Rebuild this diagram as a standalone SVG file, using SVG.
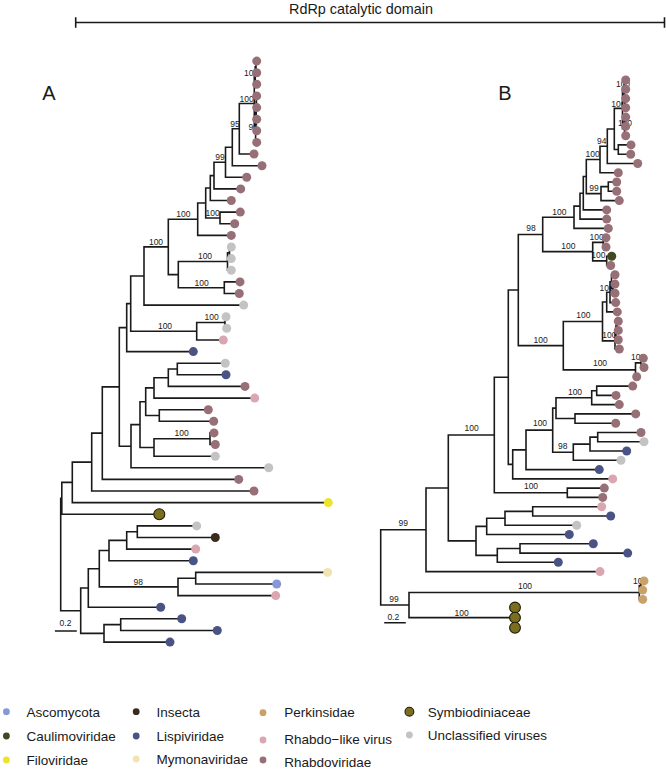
<svg xmlns="http://www.w3.org/2000/svg" width="666" height="769" viewBox="0 0 666 769">
<style>
.br{fill:none;stroke:#1a1a1a;stroke-width:1.6;stroke-linecap:square}
.lb{font-family:"Liberation Sans",Arial,sans-serif;font-size:8.5px;fill:#1a1a1a;text-anchor:middle}
.lg{font-family:"Liberation Sans",Arial,sans-serif;font-size:13.5px;fill:#1a1a1a}
.tt{font-family:"Liberation Sans",Arial,sans-serif;font-size:14.4px;fill:#1a1a1a;text-anchor:middle}
.pl{font-family:"Liberation Sans",Arial,sans-serif;font-size:20px;fill:#1a1a1a}
.rh{fill:#976f77}.gr{fill:#c3c3c3}.pk{fill:#d9a6b2}.li{fill:#4a5386}.as{fill:#8797d8}
.in{fill:#3a2b1c}.ca{fill:#3f4a22}.fi{fill:#ece32b}.my{fill:#f1e3b3}.pe{fill:#c8a26a}
.sy{fill:#7c6e1f;stroke:#1e1e0a;stroke-width:1.1}
</style>
<rect width="666" height="769" fill="#ffffff"/>
<g id="title">
<text class="tt" x="361" y="14">RdRp catalytic domain</text>
<path class="br" d="M75.7 22.5H664.5M75.7 18V27M664.5 18V27" stroke-linecap="butt"/>
</g>
<text class="pl" x="42.3" y="100">A</text>
<text class="pl" x="498.3" y="100">B</text>
<g id="connectors">
<path id="treeA-branches" class="br" d="M256 61.1V72.7M256 61.1H256.7M256 72.7H256.7M255.2 66.9V84.3M255.2 66.9H256M255.2 84.3H256.7M256.4 95.9V107.6M256.4 95.9H256.7M256.4 107.6H256.7M256.2 101.75V119.2M256.2 101.75H256.4M256.2 119.2H256.7M255.9 110.5V130.8M255.9 110.5H256.2M255.9 130.8H256.7M255.6 120.65V142.4M255.6 120.65H255.9M255.6 142.4H256.7M254.3 75.6V131.5M254.3 75.6H255.2M254.3 131.5H255.6M239.3 103.55V154M239.3 103.55H254.3M239.3 154H254M232.3 128.8V165.7M232.3 128.8H239.3M232.3 165.7H262M225.5 147.25V177.3M225.5 147.25H232.3M225.5 177.3H246.7M214 162.3V188.9M214 162.3H225.5M214 188.9H240.7M210.3 175.6V200.5M210.3 175.6H214M210.3 200.5H231.3M220 212.1V223.8M220 212.1H240.3M220 223.8H234.7M205.7 188.05V217.95M205.7 188.05H210.3M205.7 217.95H220M197.7 203V235.4M197.7 203H205.7M197.7 235.4H231.3M229.5 247V258.6M229.5 247H231.3M229.5 258.6H231.3M227.5 252.8V270.2M227.5 252.8H229.5M227.5 270.2H231.3M224.3 281.9V293.5M224.3 281.9H240M224.3 293.5H239.3M178.3 261.5V287.7M178.3 261.5H227.5M178.3 287.7H224.3M168.3 219.2V274.6M168.3 219.2H197.7M168.3 274.6H178.3M144 246.9V305.1M144 246.9H168.3M144 305.1H243.7M225 316.7V328.3M225 316.7H226M225 328.3H226.7M196.7 322.5V340M196.7 322.5H225M196.7 340H223.3M130.7 276V331.25M130.7 276H144M130.7 331.25H196.7M126.7 303.6V351.6M126.7 303.6H130.7M126.7 351.6H193.3M177.3 363.2V374.8M177.3 363.2H225.3M177.3 374.8H226M168.3 369V386.4M168.3 369H177.3M168.3 386.4H245M154 377.7V398.1M154 377.7H168.3M154 398.1H254.7M159.3 409.7V421.3M159.3 409.7H208.3M159.3 421.3H213.7M145.7 387.9V415.5M145.7 387.9H154M145.7 415.5H159.3M210 432.9V444.5M210 432.9H214M210 444.5H215.3M154 438.7V456.2M154 438.7H210M154 456.2H215.3M140 401.7V447.45M140 401.7H145.7M140 447.45H154M131 424.6V467.8M131 424.6H140M131 467.8H268.7M119.3 327.6V446.2M119.3 327.6H126.7M119.3 446.2H131M102.3 386.9V479.4M102.3 386.9H119.3M102.3 479.4H238.7M91.7 433.15V491M91.7 433.15H102.3M91.7 491H254M72.3 462.1V502.6M72.3 462.1H91.7M72.3 502.6H328.3M61.8 482.35V514.3M61.8 482.35H72.3M61.8 514.3H159.3M137.3 525.9V537.5M137.3 525.9H196.7M137.3 537.5H215.3M126.7 531.7V549.1M126.7 531.7H137.3M126.7 549.1H195.7M109 540.4V560.7M109 540.4H126.7M109 560.7H193.3M195.7 572.4V584M195.7 572.4H327.7M195.7 584H276.7M178 578.2V595.6M178 578.2H195.7M178 595.6H275.7M99.3 550.55V586.9M99.3 550.55H109M99.3 586.9H178M88.3 568.7V607.2M88.3 568.7H99.3M88.3 607.2H160.7M120.7 618.8V630.5M120.7 618.8H181.7M120.7 630.5H217.3M104 624.65V642.1M104 624.65H120.7M104 642.1H170M80.7 587.95V633.4M80.7 587.95H88.3M80.7 633.4H104M60.7 498.3V610.7M60.7 498.3H61.8M60.7 610.7H80.7"/>
<path id="treeB-branches" class="br" d="M625 98.6V107.8M625 98.6H625.7M625 107.8H625.7M624.5 89.3V103.2M624.5 89.3H625.7M624.5 103.2H625M624 80V96.25M624 80H625.7M624 96.25H624.5M625 117.1V126.4M625 117.1H625.7M625 126.4H625.7M624.5 121.75V135.7M624.5 121.75H625M624.5 135.7H625.7M622.5 88.1V128.7M622.5 88.1H624M622.5 128.7H624.5M618.3 144.9V154.2M618.3 144.9H631M618.3 154.2H630.7M614.3 108.4V149.55M614.3 108.4H622.5M614.3 149.55H618.3M607.3 128.98V163.5M607.3 128.98H614.3M607.3 163.5H637.7M600 146.24V172.8M600 146.24H607.3M600 172.8H618.3M608.3 182V191.3M608.3 182H616.7M608.3 191.3H616.7M601 186.65V200.6M601 186.65H608.3M601 200.6H619.3M586.3 159.52V193.63M586.3 159.52H600M586.3 193.63H601M583.3 176.57V209.9M583.3 176.57H586.3M583.3 209.9H606.7M580 193.24V219.1M580 193.24H583.3M580 219.1H606.7M574 206.17V228.4M574 206.17H580M574 228.4H608.3M603.3 237.7V247M603.3 237.7H606M603.3 247H606M606.7 256.2V265.5M606.7 256.2H611.7M606.7 265.5H610.7M592.7 242.35V260.85M592.7 242.35H603.3M592.7 260.85H606.7M542.7 217.28V251.6M542.7 217.28H574M542.7 251.6H592.7M613 284.1V293.3M613 284.1H615M613 293.3H615M611.5 274.8V288.7M611.5 274.8H615M611.5 288.7H613M610 281.75V302.6M610 281.75H611.5M610 302.6H615.7M606.7 292.18V311.9M606.7 292.18H610M606.7 311.9H617.3M617 321.2V330.4M617 321.2H618.3M617 330.4H618.3M616 325.8V339.7M616 325.8H617M616 339.7H618.3M615 332.75V349M615 332.75H616M615 349H619.3M602.5 302.04V340.88M602.5 302.04H606.7M602.5 340.88H615M641 358.3V367.5M641 358.3H643.3M641 367.5H644M635.5 362.9V376.8M635.5 362.9H641M635.5 376.8H636.7M563.3 321.46V369.85M563.3 321.46H602.5M563.3 369.85H635.5M518.3 234.44V345.66M518.3 234.44H542.7M518.3 345.66H563.3M596.7 386.1V395.4M596.7 386.1H632.7M596.7 395.4H616M591.7 390.75V404.6M591.7 390.75H596.7M591.7 404.6H619.3M575 413.9V423.2M575 413.9H635.7M575 423.2H615.7M556 397.68V418.55M556 397.68H591.7M556 418.55H575M597.7 432.5V441.8M597.7 432.5H641M597.7 441.8H644M590 437.15V451M590 437.15H597.7M590 451H626.7M573.3 444.08V460.3M573.3 444.08H590M573.3 460.3H621M552.7 408.1V452.19M552.7 408.1H556M552.7 452.19H573.3M526 430.15V469.6M526 430.15H552.7M526 469.6H599.3M512.7 449.87V478.9M512.7 449.87H526M512.7 478.9H612.7M508.3 290.05V464.39M508.3 290.05H518.3M508.3 464.39H512.7M567.3 488.1V497.4M567.3 488.1H604.3M567.3 497.4H602.7M494.3 377.22V492.75M494.3 377.22H508.3M494.3 492.75H567.3M532.7 506.7V516M532.7 506.7H601.7M532.7 516H610.7M505 511.35V525.2M505 511.35H532.7M505 525.2H576.7M486.7 518.28V534.5M486.7 518.28H505M486.7 534.5H569.3M520 543.8V553.1M520 543.8H593.3M520 553.1H627.7M497.3 548.45V562.3M497.3 548.45H520M497.3 562.3H558.3M476 526.39V555.38M476 526.39H486.7M476 555.38H497.3M448.3 434.99V540.88M448.3 434.99H494.3M448.3 540.88H476M426 487.94V571.6M426 487.94H448.3M426 571.6H600M641 580.9V590.1M641 580.9H644M641 590.1H642.7M639.3 585.5V599.4M639.3 585.5H641M639.3 599.4H642.7M513 607.5V627.7M513 607.5H515M513 627.7H515M409 592.45V617.6M409 592.45H639.3M409 617.6H513M380.7 529.77V605M380.7 529.77H426M380.7 605H409"/>
<path id="scalebars" class="br" stroke-linecap="butt" d="M55.7 631H76M385 622.7H405"/>
</g>
<g id="support-labels">
<text class="lb" x="251" y="75.5">100</text>
<text class="lb" x="246.7" y="102">100</text>
<text class="lb" x="235" y="127.3">95</text>
<text class="lb" x="253.3" y="130">96</text>
<text class="lb" x="220" y="160">99</text>
<text class="lb" x="212.7" y="215.7">100</text>
<text class="lb" x="183.3" y="217">100</text>
<text class="lb" x="156" y="244.7">100</text>
<text class="lb" x="205" y="259">100</text>
<text class="lb" x="201.7" y="285.7">100</text>
<text class="lb" x="211.7" y="320.3">100</text>
<text class="lb" x="165" y="328.7">100</text>
<text class="lb" x="181.7" y="435.7">100</text>
<text class="lb" x="138.3" y="584.7">98</text>
<text class="lb" x="65.5" y="625.7">0.2</text>
<text class="lb" x="623" y="86.5">100</text>
<text class="lb" x="618.3" y="106.8">100</text>
<text class="lb" x="625" y="125.5">100</text>
<text class="lb" x="601.7" y="144">94</text>
<text class="lb" x="592.7" y="157">100</text>
<text class="lb" x="594" y="190.7">99</text>
<text class="lb" x="559.3" y="214.7">100</text>
<text class="lb" x="531" y="231.3">98</text>
<text class="lb" x="596.7" y="239.7">100</text>
<text class="lb" x="568.3" y="248.7">100</text>
<text class="lb" x="598.3" y="258">100</text>
<text class="lb" x="606.7" y="290.6">100</text>
<text class="lb" x="583.3" y="318">100</text>
<text class="lb" x="609.3" y="338">100</text>
<text class="lb" x="540.7" y="343">100</text>
<text class="lb" x="638" y="359.5">100</text>
<text class="lb" x="600" y="366.3">100</text>
<text class="lb" x="575" y="394.7">100</text>
<text class="lb" x="540" y="426.3">100</text>
<text class="lb" x="471.7" y="431.3">100</text>
<text class="lb" x="562.7" y="449">98</text>
<text class="lb" x="531" y="489">100</text>
<text class="lb" x="403.3" y="526.3">99</text>
<text class="lb" x="640" y="584">100</text>
<text class="lb" x="525" y="588.7">100</text>
<text class="lb" x="394" y="602.3">99</text>
<text class="lb" x="461.7" y="616">100</text>
<text class="lb" x="393.3" y="619.7">0.2</text>
</g>
<g id="treeA-tips">
<g id="A0"><circle class="rh" cx="256.7" cy="61.1" r="4.5"/></g>
<g id="A1"><circle class="rh" cx="256.7" cy="72.7" r="4.5"/></g>
<g id="A2"><circle class="rh" cx="256.7" cy="84.3" r="4.5"/></g>
<g id="A3"><circle class="rh" cx="256.7" cy="95.9" r="4.5"/></g>
<g id="A4"><circle class="rh" cx="256.7" cy="107.6" r="4.5"/></g>
<g id="A5"><circle class="rh" cx="256.7" cy="119.2" r="4.5"/></g>
<g id="A6"><circle class="rh" cx="256.7" cy="130.8" r="4.5"/></g>
<g id="A7"><circle class="rh" cx="256.7" cy="142.4" r="4.5"/></g>
<g id="A8"><circle class="rh" cx="254" cy="154" r="4.5"/></g>
<g id="A9"><circle class="rh" cx="262" cy="165.7" r="4.5"/></g>
<g id="A10"><circle class="rh" cx="246.7" cy="177.3" r="4.5"/></g>
<g id="A11"><circle class="rh" cx="240.7" cy="188.9" r="4.5"/></g>
<g id="A12"><circle class="rh" cx="231.3" cy="200.5" r="4.5"/></g>
<g id="A13"><circle class="rh" cx="240.3" cy="212.1" r="4.5"/></g>
<g id="A14"><circle class="rh" cx="234.7" cy="223.8" r="4.5"/></g>
<g id="A15"><circle class="rh" cx="231.3" cy="235.4" r="4.5"/></g>
<g id="A16"><circle class="gr" cx="231.3" cy="247" r="4.5"/></g>
<g id="A17"><circle class="gr" cx="231.3" cy="258.6" r="4.5"/></g>
<g id="A18"><circle class="gr" cx="231.3" cy="270.2" r="4.5"/></g>
<g id="A19"><circle class="rh" cx="240" cy="281.9" r="4.5"/></g>
<g id="A20"><circle class="rh" cx="239.3" cy="293.5" r="4.5"/></g>
<g id="A21"><circle class="gr" cx="243.7" cy="305.1" r="4.5"/></g>
<g id="A22"><circle class="gr" cx="226" cy="316.7" r="4.5"/></g>
<g id="A23"><circle class="gr" cx="226.7" cy="328.3" r="4.5"/></g>
<g id="A24"><circle class="pk" cx="223.3" cy="340" r="4.5"/></g>
<g id="A25"><circle class="li" cx="193.3" cy="351.6" r="4.5"/></g>
<g id="A26"><circle class="gr" cx="225.3" cy="363.2" r="4.5"/></g>
<g id="A27"><circle class="li" cx="226" cy="374.8" r="4.5"/></g>
<g id="A28"><circle class="rh" cx="245" cy="386.4" r="4.5"/></g>
<g id="A29"><circle class="pk" cx="254.7" cy="398.1" r="4.5"/></g>
<g id="A30"><circle class="rh" cx="208.3" cy="409.7" r="4.5"/></g>
<g id="A31"><circle class="rh" cx="213.7" cy="421.3" r="4.5"/></g>
<g id="A32"><circle class="rh" cx="214" cy="432.9" r="4.5"/></g>
<g id="A33"><circle class="rh" cx="215.3" cy="444.5" r="4.5"/></g>
<g id="A34"><circle class="gr" cx="215.3" cy="456.2" r="4.5"/></g>
<g id="A35"><circle class="gr" cx="268.7" cy="467.8" r="4.5"/></g>
<g id="A36"><circle class="rh" cx="238.7" cy="479.4" r="4.5"/></g>
<g id="A37"><circle class="rh" cx="254" cy="491" r="4.5"/></g>
<g id="A38"><circle class="fi" cx="328.3" cy="502.6" r="4.5"/></g>
<g id="A39"><circle class="sy" cx="159.3" cy="514.3" r="5.5"/></g>
<g id="A40"><circle class="gr" cx="196.7" cy="525.9" r="4.5"/></g>
<g id="A41"><circle class="in" cx="215.3" cy="537.5" r="4.5"/></g>
<g id="A42"><circle class="pk" cx="195.7" cy="549.1" r="4.5"/></g>
<g id="A43"><circle class="li" cx="193.3" cy="560.7" r="4.5"/></g>
<g id="A44"><circle class="my" cx="327.7" cy="572.4" r="4.5"/></g>
<g id="A45"><circle class="as" cx="276.7" cy="584" r="4.5"/></g>
<g id="A46"><circle class="pk" cx="275.7" cy="595.6" r="4.5"/></g>
<g id="A47"><circle class="li" cx="160.7" cy="607.2" r="4.5"/></g>
<g id="A48"><circle class="li" cx="181.7" cy="618.8" r="4.5"/></g>
<g id="A49"><circle class="li" cx="217.3" cy="630.5" r="4.5"/></g>
<g id="A50"><circle class="li" cx="170" cy="642.1" r="4.5"/></g>
</g>
<g id="treeB-tips">
<g id="B1"><circle class="rh" cx="625.7" cy="80" r="4.5"/></g>
<g id="B2"><circle class="rh" cx="625.7" cy="89.3" r="4.5"/></g>
<g id="B3"><circle class="rh" cx="625.7" cy="98.6" r="4.5"/></g>
<g id="B4"><circle class="rh" cx="625.7" cy="107.8" r="4.5"/></g>
<g id="B5"><circle class="rh" cx="625.7" cy="117.1" r="4.5"/></g>
<g id="B6"><circle class="rh" cx="625.7" cy="126.4" r="4.5"/></g>
<g id="B7"><circle class="rh" cx="625.7" cy="135.7" r="4.5"/></g>
<g id="B8"><circle class="rh" cx="631" cy="144.9" r="4.5"/></g>
<g id="B9"><circle class="rh" cx="630.7" cy="154.2" r="4.5"/></g>
<g id="B10"><circle class="rh" cx="637.7" cy="163.5" r="4.5"/></g>
<g id="B11"><circle class="rh" cx="618.3" cy="172.8" r="4.5"/></g>
<g id="B12"><circle class="rh" cx="616.7" cy="182" r="4.5"/></g>
<g id="B13"><circle class="rh" cx="616.7" cy="191.3" r="4.5"/></g>
<g id="B14"><circle class="rh" cx="619.3" cy="200.6" r="4.5"/></g>
<g id="B15"><circle class="rh" cx="606.7" cy="209.9" r="4.5"/></g>
<g id="B16"><circle class="rh" cx="606.7" cy="219.1" r="4.5"/></g>
<g id="B17"><circle class="rh" cx="608.3" cy="228.4" r="4.5"/></g>
<g id="B18"><circle class="rh" cx="606" cy="237.7" r="4.5"/></g>
<g id="B19"><circle class="rh" cx="606" cy="247" r="4.5"/></g>
<g id="B20"><circle class="ca" cx="611.7" cy="256.2" r="4.5"/></g>
<g id="B21"><circle class="rh" cx="610.7" cy="265.5" r="4.5"/></g>
<g id="B22"><circle class="rh" cx="615" cy="274.8" r="4.5"/></g>
<g id="B23"><circle class="rh" cx="615" cy="284.1" r="4.5"/></g>
<g id="B24"><circle class="rh" cx="615" cy="293.3" r="4.5"/></g>
<g id="B25"><circle class="rh" cx="615.7" cy="302.6" r="4.5"/></g>
<g id="B26"><circle class="rh" cx="617.3" cy="311.9" r="4.5"/></g>
<g id="B27"><circle class="rh" cx="618.3" cy="321.2" r="4.5"/></g>
<g id="B28"><circle class="rh" cx="618.3" cy="330.4" r="4.5"/></g>
<g id="B29"><circle class="rh" cx="618.3" cy="339.7" r="4.5"/></g>
<g id="B30"><circle class="rh" cx="619.3" cy="349" r="4.5"/></g>
<g id="B31"><circle class="rh" cx="643.3" cy="358.3" r="4.5"/></g>
<g id="B32"><circle class="rh" cx="644" cy="367.5" r="4.5"/></g>
<g id="B33"><circle class="rh" cx="636.7" cy="376.8" r="4.5"/></g>
<g id="B34"><circle class="rh" cx="632.7" cy="386.1" r="4.5"/></g>
<g id="B35"><circle class="rh" cx="616" cy="395.4" r="4.5"/></g>
<g id="B36"><circle class="rh" cx="619.3" cy="404.6" r="4.5"/></g>
<g id="B37"><circle class="rh" cx="635.7" cy="413.9" r="4.5"/></g>
<g id="B38"><circle class="rh" cx="615.7" cy="423.2" r="4.5"/></g>
<g id="B39"><circle class="rh" cx="641" cy="432.5" r="4.5"/></g>
<g id="B40"><circle class="gr" cx="644" cy="441.8" r="4.5"/></g>
<g id="B41"><circle class="li" cx="626.7" cy="451" r="4.5"/></g>
<g id="B42"><circle class="gr" cx="621" cy="460.3" r="4.5"/></g>
<g id="B43"><circle class="li" cx="599.3" cy="469.6" r="4.5"/></g>
<g id="B44"><circle class="pk" cx="612.7" cy="478.9" r="4.5"/></g>
<g id="B45"><circle class="rh" cx="604.3" cy="488.1" r="4.5"/></g>
<g id="B46"><circle class="rh" cx="602.7" cy="497.4" r="4.5"/></g>
<g id="B47"><circle class="pk" cx="601.7" cy="506.7" r="4.5"/></g>
<g id="B48"><circle class="li" cx="610.7" cy="516" r="4.5"/></g>
<g id="B49"><circle class="gr" cx="576.7" cy="525.2" r="4.5"/></g>
<g id="B50"><circle class="li" cx="569.3" cy="534.5" r="4.5"/></g>
<g id="B51"><circle class="li" cx="593.3" cy="543.8" r="4.5"/></g>
<g id="B52"><circle class="li" cx="627.7" cy="553.1" r="4.5"/></g>
<g id="B53"><circle class="li" cx="558.3" cy="562.3" r="4.5"/></g>
<g id="B54"><circle class="pk" cx="600" cy="571.6" r="4.5"/></g>
<g id="B55"><circle class="pe" cx="644" cy="580.9" r="4.5"/></g>
<g id="B56"><circle class="pe" cx="642.7" cy="590.1" r="4.5"/></g>
<g id="B57"><circle class="pe" cx="642.7" cy="599.4" r="4.5"/></g>
<g id="B58"><circle class="sy" cx="515" cy="607.5" r="5.4"/></g>
<g id="B59"><circle class="sy" cx="515" cy="617.6" r="5.4"/></g>
<g id="B60"><circle class="sy" cx="515" cy="627.7" r="5.4"/></g>
</g>
<g id="legend">
<g id="lg-ascomycota"><circle class="as" cx="6.4" cy="711.7" r="3.4"/><text class="lg" x="26.4" y="716.6">Ascomycota</text></g>
<g id="lg-caulimoviridae"><circle class="ca" cx="6.4" cy="736" r="3.4"/><text class="lg" x="26.4" y="741">Caulimoviridae</text></g>
<g id="lg-filoviridae"><circle class="fi" cx="6.4" cy="760" r="3.4"/><text class="lg" x="26.4" y="765">Filoviridae</text></g>
<g id="lg-insecta"><circle class="in" cx="136.2" cy="711.7" r="3.4"/><text class="lg" x="156.6" y="716.6">Insecta</text></g>
<g id="lg-lispiviridae"><circle class="li" cx="136.2" cy="736" r="3.4"/><text class="lg" x="156.6" y="741">Lispiviridae</text></g>
<g id="lg-mymonaviridae"><circle class="my" cx="136.2" cy="759" r="3.4"/><text class="lg" x="156.6" y="764">Mymonaviridae</text></g>
<g id="lg-perkinsidae"><circle class="pe" cx="263" cy="712.7" r="3.4"/><text class="lg" x="284.3" y="716.6">Perkinsidae</text></g>
<g id="lg-rhabdolike"><circle class="pk" cx="263" cy="740" r="3.4"/><text class="lg" x="284.3" y="744">Rhabdo−like virus</text></g>
<g id="lg-rhabdoviridae"><circle class="rh" cx="263" cy="760" r="3.4"/><text class="lg" x="284.3" y="766.5">Rhabdoviridae</text></g>
<g id="lg-symbiodiniaceae"><circle class="sy" cx="409.4" cy="711.7" r="4.4"/><text class="lg" x="427.7" y="716.6">Symbiodiniaceae</text></g>
<g id="lg-unclassified"><circle class="gr" cx="409.4" cy="735" r="3.4"/><text class="lg" x="427.7" y="740.2">Unclassified viruses</text></g>
</g>
</svg>
